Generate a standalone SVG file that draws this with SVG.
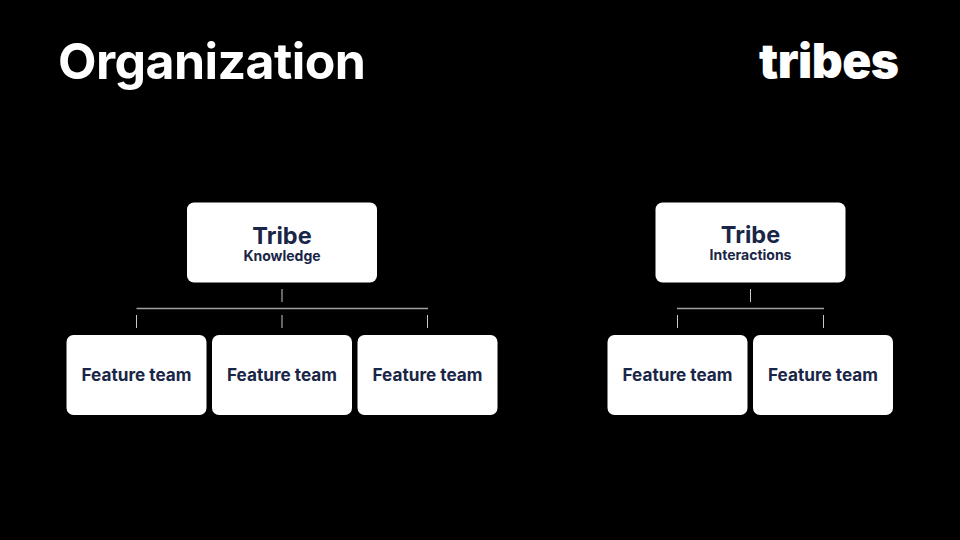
<svg xmlns="http://www.w3.org/2000/svg" width="960" height="540" viewBox="0 0 960 540">
<style>
.card{fill:#fff}
.t{font-family:"Inter","Liberation Sans",sans-serif;text-anchor:middle;fill:#1a2647}
.ft{font-size:17.2px;font-weight:700}
.h{font-size:23.5px;font-weight:700}
.s{font-size:14px;font-weight:700}
.lines line{stroke:#c8c8c8;stroke-width:1}
.lines line.bar{stroke:#a0a0a0;stroke-width:1.5}
</style>
<rect width="960" height="540" fill="#000"/>
<text id="title" x="58" y="79" font-family="Inter,'Open Sans',sans-serif" font-size="50" font-weight="700" fill="#fff" textLength="308" style="font-variant-ligatures:none">Organization</text>
<text id="logo" x="759" y="78" font-family="Inter,'Open Sans',sans-serif" font-size="48" font-weight="900" fill="#fff" textLength="140">tribes</text>
<g id="connectors" class="lines">
<line x1="282" y1="289" x2="282" y2="302"/>
<line class="bar" x1="136.500" y1="308.500" x2="428" y2="308.500"/>
<line x1="136.500" y1="315" x2="136.500" y2="328"/>
<line x1="282" y1="315" x2="282" y2="328"/>
<line x1="427.500" y1="315" x2="427.500" y2="328"/>
<line x1="750.500" y1="289" x2="750.500" y2="302"/>
<line class="bar" x1="677" y1="308.500" x2="824" y2="308.500"/>
<line x1="677.500" y1="315" x2="677.500" y2="328"/>
<line x1="823.500" y1="315" x2="823.500" y2="328"/>
</g>
<g id="tribe-knowledge"><rect class="card" x="187" y="202.500" width="190" height="80" rx="7"/><text class="t h" x="282" y="243.500">Tribe</text><text class="t s" x="282" y="261">Knowledge</text></g>
<g id="tribe-interactions"><rect class="card" x="655.500" y="202.500" width="190" height="80" rx="7"/><text class="t h" x="750.500" y="242.500">Tribe</text><text class="t s" x="750.500" y="260">Interactions</text></g>
<g id="team-1"><rect class="card" x="66.500" y="335" width="140" height="80" rx="7"/><text class="t ft" x="136.500" y="381">Feature team</text></g>
<g id="team-2"><rect class="card" x="212" y="335" width="140" height="80" rx="7"/><text class="t ft" x="282" y="381">Feature team</text></g>
<g id="team-3"><rect class="card" x="357.500" y="335" width="140" height="80" rx="7"/><text class="t ft" x="427.500" y="381">Feature team</text></g>
<g id="team-4"><rect class="card" x="607.500" y="335" width="140" height="80" rx="7"/><text class="t ft" x="677.500" y="381">Feature team</text></g>
<g id="team-5"><rect class="card" x="753" y="335" width="140" height="80" rx="7"/><text class="t ft" x="823" y="381">Feature team</text></g>
</svg>
